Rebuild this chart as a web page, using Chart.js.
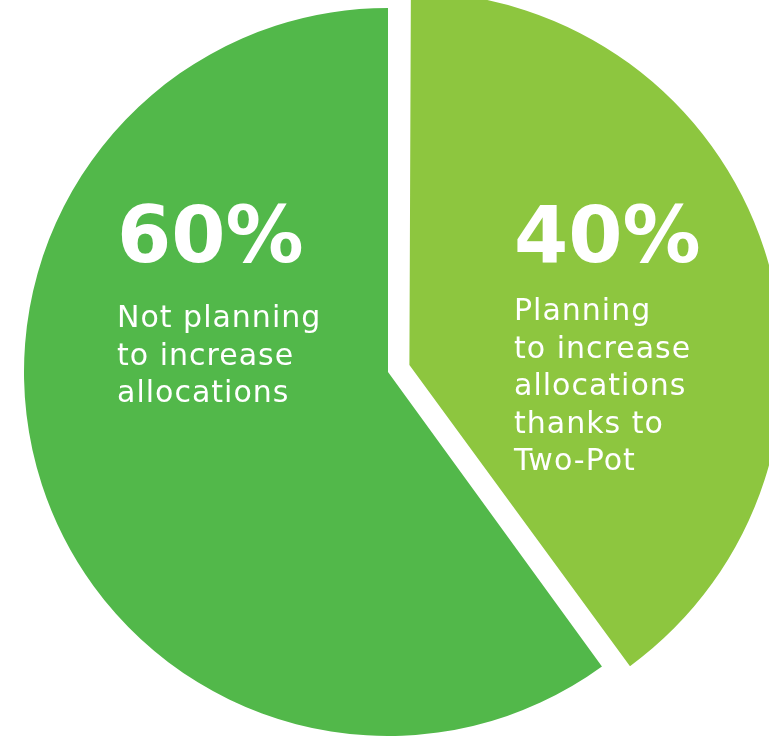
<!DOCTYPE html>
<html>
<head>
<meta charset="utf-8">
<script src="https://cdn.jsdelivr.net/npm/chart.js@4"></script>
<style>
    html, body { margin: 0; padding: 0; background: #fff; }
    #wrap { width: 769px; height: 736px; }
</style>
</head>
<body>
<div id="wrap"><canvas id="potChart"></canvas></div>
<script>
const categories = ["Planning to increase allocations thanks to Two-Pot", "Not planning to increase allocations"];
const values = [40, 60];
const percentLabels = ["40%", "60%"];
const descLines = [
    ["Planning", "to increase", "allocations", "thanks to", "Two-Pot"],
    ["Not planning", "to increase", "allocations"]
];
const sliceColors = ['#8dc63f', '#52b84a'];

// where each text block sits, relative to the pie centre
const textSpots = [
    { dx: 126, pctY: -110, firstLineY: -52 },
    { dx: -271, pctY: -110, firstLineY: -45 }
];

const sliceText = {
    id: 'sliceText',
    afterDatasetsDraw(chart) {
        const ctx = chart.ctx;
        const arcs = chart.getDatasetMeta(0).data;
        ctx.save();
        ctx.fillStyle = '#ffffff';
        ctx.textAlign = 'left';
        ctx.textBaseline = 'alphabetic';
        arcs.forEach((arc, i) => {
            const spot = textSpots[i];
            const x = arc.x + spot.dx;
            ctx.font = 'bold 78px "DejaVu Sans"';
            ctx.letterSpacing = '0px';
            ctx.fillText(percentLabels[i], x, arc.y + spot.pctY);
            ctx.font = '30px "DejaVu Sans"';
            ctx.letterSpacing = '1px';
            descLines[i].forEach((line, j) => {
                ctx.fillText(line, x, arc.y + spot.firstLineY + j * 37.5);
            });
        });
        ctx.restore();
    }
};

// chart.js draws the offset scaled down, 90 gives a ~21px gap
const potChart = new Chart(document.getElementById('potChart').getContext('2d'), {
    type: 'pie',
    data: {
        labels: categories,
        datasets: [{
            data: values,
            backgroundColor: sliceColors,
            borderWidth: 0,
            offset: [90, 0],
            clip: false
        }]
    },
    options: {
        responsive: true,
        maintainAspectRatio: false,
        animation: false,
        events: [],
        radius: 364,
        layout: {
            padding: { left: 7, right: 0, top: 8, bottom: 0 }
        },
        plugins: {
            legend: { display: false },
            tooltip: { enabled: false }
        }
    },
    plugins: [sliceText]
});
</script>
</body>
</html>
